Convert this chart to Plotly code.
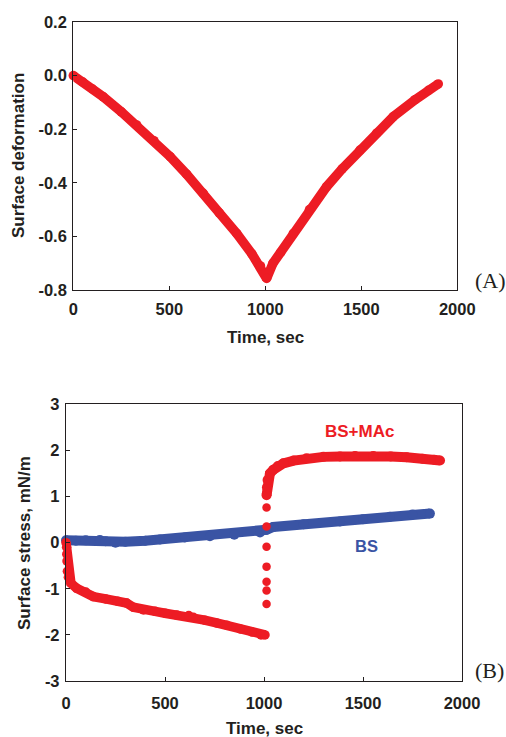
import plotly.graph_objects as go

# ---- (A) surface deformation vs time ----
def_time = [0, 50, 100, 156, 250, 330, 420, 504, 590, 677, 760, 851, 930, 975, 1007,
            1040, 1080, 1146, 1230, 1320, 1400, 1493, 1580, 1667, 1780, 1850, 1901]
def_value = [0.0, -0.024, -0.05, -0.079, -0.135, -0.184, -0.243, -0.302, -0.368, -0.439,
             -0.512, -0.589, -0.665, -0.71, -0.757,
             -0.70, -0.66, -0.589, -0.50, -0.414, -0.348, -0.278, -0.215, -0.153,
             -0.09, -0.055, -0.031]

# ---- (B) surface stress vs time ----
bs_time = [0, 50, 100, 171, 200, 250, 300, 400, 475, 600, 727, 850, 980, 1013, 1047,
           1200, 1384, 1500, 1636, 1750, 1838]
bs_value = [0.05, 0.04, 0.05, 0.06, 0.03, 0.0, 0.02, 0.04, 0.07, 0.11, 0.14, 0.17, 0.22,
            0.28, 0.34, 0.40, 0.46, 0.51, 0.56, 0.61, 0.63]

mac_time_down = [0, 3, 4, 5, 7, 12, 25, 54, 100, 138, 200, 260, 306, 340, 391, 450, 500,
                 559, 620, 643, 700, 760, 812, 880, 940, 985, 1005]
mac_value_down = [0.0, -0.1, -0.25, -0.4, -0.62, -0.75, -0.88, -0.99, -1.07, -1.17, -1.22,
                  -1.27, -1.31, -1.40, -1.46, -1.49, -1.53, -1.57, -1.58, -1.62, -1.68,
                  -1.74, -1.79, -1.87, -1.94, -2.0, -2.0]
mac_time_jump = [1013, 1013, 1013, 1013, 1013, 1013, 1013]
mac_value_jump = [-1.33, -1.04, -0.85, -0.52, -0.09, 0.35, 0.76]
mac_time_up = [1013, 1015, 1018, 1030, 1047, 1070, 1098, 1150, 1215, 1300, 1384, 1460,
               1552, 1640, 1720, 1800, 1860, 1889]
mac_value_up = [1.03, 1.2, 1.36, 1.5, 1.58, 1.66, 1.72, 1.78, 1.83, 1.86, 1.87, 1.88,
                1.88, 1.87, 1.85, 1.82, 1.80, 1.78]

time_ticks = [0, 500, 1000, 1500, 2000]
def_ticks = [0.2, 0.0, -0.2, -0.4, -0.6, -0.8]
def_ticktext = ["0.2", "0.0", "-0.2", "-0.4", "-0.6", "-0.8"]
stress_ticks = [3, 2, 1, 0, -1, -2, -3]
stress_ticktext = ["3", "2", "1", "0", "-1", "-2", "-3"]

RED = "#ED1C24"
BLUE = "#3A54A4"
INK = "#231F20"
W, H = 506, 737
SANS = "Liberation Sans, Arial, sans-serif"
SERIF = "Liberation Serif, Times New Roman, serif"


def px_x(p):
    return p / W


def px_y(p):
    return 1 - p / H


fig = go.Figure()

fig.add_trace(go.Scatter(
    x=def_time, y=def_value, mode="lines+markers",
    line=dict(color=RED, width=9.5), marker=dict(color=RED, size=9.5),
    cliponaxis=False, xaxis="x", yaxis="y", showlegend=False))

fig.add_trace(go.Scatter(
    x=bs_time, y=bs_value, mode="lines+markers",
    line=dict(color=BLUE, width=10), marker=dict(color=BLUE, size=10),
    cliponaxis=False, xaxis="x2", yaxis="y2", showlegend=False))
fig.add_trace(go.Scatter(
    x=mac_time_down, y=mac_value_down, mode="lines+markers",
    line=dict(color=RED, width=9.5), marker=dict(color=RED, size=9.5),
    cliponaxis=False, xaxis="x2", yaxis="y2", showlegend=False))
fig.add_trace(go.Scatter(
    x=mac_time_jump, y=mac_value_jump, mode="markers",
    marker=dict(color=RED, size=8.5),
    cliponaxis=False, xaxis="x2", yaxis="y2", showlegend=False))
fig.add_trace(go.Scatter(
    x=mac_time_up, y=mac_value_up, mode="lines+markers",
    line=dict(color=RED, width=10), marker=dict(color=RED, size=10),
    cliponaxis=False, xaxis="x2", yaxis="y2", showlegend=False))

tickfont = dict(family=SANS, size=16.5, color=INK, weight="bold")
axis_common = dict(showline=True, mirror=True, linecolor=INK, linewidth=1.3,
                   ticks="inside", ticklen=4, tickwidth=1, tickcolor=INK,
                   showgrid=False, zeroline=False, tickfont=tickfont,
                   automargin=False, fixedrange=True)

fig.update_layout(
    width=W, height=H,
    margin=dict(l=0, r=0, t=0, b=0),
    paper_bgcolor="white", plot_bgcolor="white",
    xaxis=dict(domain=[px_x(73.3), px_x(457.3)], range=[0, 2000],
               tickvals=time_ticks, anchor="y", ticklabelstandoff=4, **axis_common),
    yaxis=dict(domain=[px_y(290), px_y(22)], range=[-0.8, 0.2],
               tickvals=def_ticks, ticktext=def_ticktext, anchor="x",
               ticklabelstandoff=2, **axis_common),
    xaxis2=dict(domain=[px_x(66), px_x(462)], range=[0, 2000],
                tickvals=time_ticks, anchor="y2", ticklabelstandoff=7, **axis_common),
    yaxis2=dict(domain=[px_y(681), px_y(404.3)], range=[-3, 3],
                tickvals=stress_ticks, ticktext=stress_ticktext, anchor="x2",
                ticklabelstandoff=2, **axis_common),
)

title_font = dict(family=SANS, size=17, color=INK, weight="bold")
annotations = [
    dict(text="Time, sec", x=px_x(265.5), y=px_y(337), xref="paper", yref="paper",
         showarrow=False, font=title_font, xanchor="center", yanchor="middle"),
    dict(text="Surface deformation", x=px_x(18), y=px_y(156), xref="paper", yref="paper",
         showarrow=False, font=title_font, textangle=-90, xanchor="center", yanchor="middle"),
    dict(text="(A)", x=px_x(490.5), y=px_y(280), xref="paper", yref="paper",
         showarrow=False, font=dict(family=SERIF, size=22, color=INK),
         xanchor="center", yanchor="middle"),
    dict(text="Time, sec", x=px_x(264), y=px_y(728), xref="paper", yref="paper",
         showarrow=False, font=title_font, xanchor="center", yanchor="middle"),
    dict(text="Surface stress, mN/m", x=px_x(24), y=px_y(543), xref="paper", yref="paper",
         showarrow=False, font=title_font, textangle=-90, xanchor="center", yanchor="middle"),
    dict(text="(B)", x=px_x(489.7), y=px_y(670), xref="paper", yref="paper",
         showarrow=False, font=dict(family=SERIF, size=22, color=INK),
         xanchor="center", yanchor="middle"),
    dict(text="BS+MAc", x=1481, y=2.41, xref="x2", yref="y2", showarrow=False,
         font=dict(family=SANS, size=17, color=RED, weight="bold"),
         xanchor="center", yanchor="middle"),
    dict(text="BS", x=1519, y=-0.07, xref="x2", yref="y2", showarrow=False,
         font=dict(family=SANS, size=16.5, color=BLUE, weight="bold"),
         xanchor="center", yanchor="middle"),
]
fig.update_layout(annotations=annotations)

fig.write_html("out.html", config=dict(displayModeBar=False))
